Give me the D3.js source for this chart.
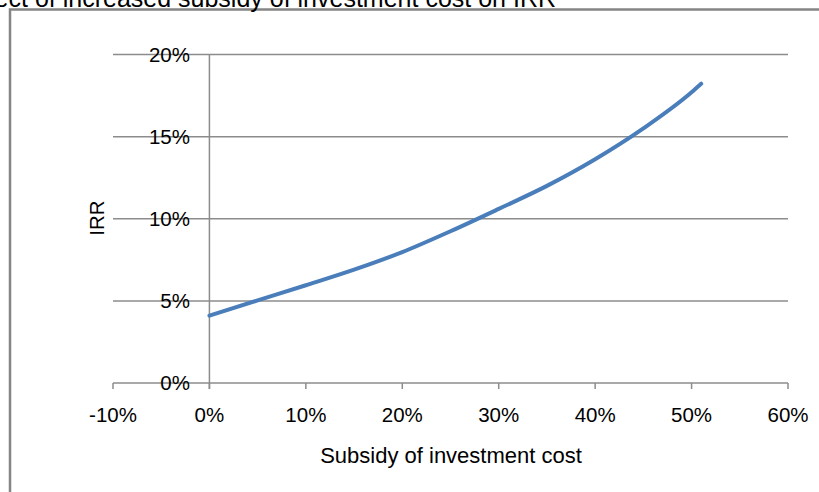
<!DOCTYPE html>
<html>
<head>
<meta charset="utf-8">
<script src="https://cdn.jsdelivr.net/npm/d3@7.9.0/dist/d3.min.js"></script>
<style>
  html, body { margin: 0; padding: 0; background: #fff; overflow: hidden; }
  svg { display: block; font-family: "Liberation Sans", Arial, sans-serif; }
</style>
</head>
<body>
<svg id="chart" width="819" height="492"></svg>
<script>
// subsidy share (x) and resulting IRR (y)
const subsidy = [0, 0.05, 0.10, 0.15, 0.20, 0.25, 0.30, 0.35, 0.40, 0.45, 0.50, 0.51];
const irr = [0.041, 0.0503, 0.0595, 0.069, 0.0797, 0.0924, 0.106, 0.120, 0.1362, 0.155, 0.177, 0.1822];

const xTicks = [-0.1, 0, 0.1, 0.2, 0.3, 0.4, 0.5, 0.6];
const yTicks = [0, 0.05, 0.10, 0.15, 0.20];

const titleText = 'Effect of increased subsidy of investment cost on IRR';
const xTitle = 'Subsidy of investment cost';
const yTitle = 'IRR';

const svg = d3.select('#chart');
const gridColor = '#8c8c8c';

const x = d3.scaleLinear().domain([-0.1, 0.6]).range([113, 788]);
const y = d3.scaleLinear().domain([0, 0.2]).range([383, 54.5]);
// plain hyphen for negatives, like the original
const pct = d => Math.round(d * 100) + '%';

// outer chart frame (only left and top edges are visible)
svg.append('path')
  .attr('d', 'M10,492 L10,9.5 L819,9.5')
  .attr('fill', 'none')
  .attr('stroke', '#858585')
  .attr('stroke-width', 2.5);

// title, cut off at the top edge as in the original
svg.append('text')
  .attr('x', 556)
  .attr('y', 7)
  .attr('text-anchor', 'end')
  .attr('font-size', 25)
  .attr('fill', '#000')
  .text(titleText);

// horizontal gridlines
svg.append('g')
  .selectAll('line')
  .data(yTicks.filter(d => d > 0))
  .join('line')
  .attr('x1', x(-0.1))
  .attr('x2', x(0.6))
  .attr('y1', d => y(d))
  .attr('y2', d => y(d))
  .attr('stroke', gridColor)
  .attr('stroke-width', 1.5);

// x axis line + ticks
svg.append('line')
  .attr('x1', x(-0.1)).attr('x2', x(0.6))
  .attr('y1', y(0)).attr('y2', y(0))
  .attr('stroke', gridColor).attr('stroke-width', 1.5);

svg.append('g')
  .selectAll('line')
  .data(xTicks)
  .join('line')
  .attr('x1', d => x(d)).attr('x2', d => x(d))
  .attr('y1', y(0)).attr('y2', y(0) + 6)
  .attr('stroke', gridColor).attr('stroke-width', 1.5);

// vertical axis at 0%
svg.append('line')
  .attr('x1', x(0)).attr('x2', x(0))
  .attr('y1', y(0.2)).attr('y2', y(0) + 6)
  .attr('stroke', gridColor).attr('stroke-width', 1.5);

// y tick labels
svg.append('g')
  .selectAll('text')
  .data(yTicks)
  .join('text')
  .attr('x', 190)
  .attr('y', d => y(d))
  .attr('dy', '0.36em')
  .attr('text-anchor', 'end')
  .attr('font-size', 20.5)
  .text(d => pct(d));

// x tick labels
svg.append('g')
  .selectAll('text')
  .data(xTicks)
  .join('text')
  .attr('x', d => x(d))
  .attr('y', 422)
  .attr('text-anchor', 'middle')
  .attr('font-size', 20.5)
  .text(d => pct(d));

// axis titles
svg.append('text')
  .attr('x', 451)
  .attr('y', 463)
  .attr('text-anchor', 'middle')
  .attr('font-size', 22)
  .text(xTitle);

svg.append('text')
  .attr('transform', 'translate(104,218) rotate(-90)')
  .attr('text-anchor', 'middle')
  .attr('font-size', 20.5)
  .text(yTitle);

// IRR curve
const line = d3.line()
  .x((d, i) => x(subsidy[i]))
  .y(d => y(d))
  .curve(d3.curveMonotoneX);

svg.append('path')
  .datum(irr)
  .attr('d', line)
  .attr('fill', 'none')
  .attr('stroke', '#4a7ebb')
  .attr('stroke-width', 4)
  .attr('stroke-linecap', 'round');
</script>
</body>
</html>
